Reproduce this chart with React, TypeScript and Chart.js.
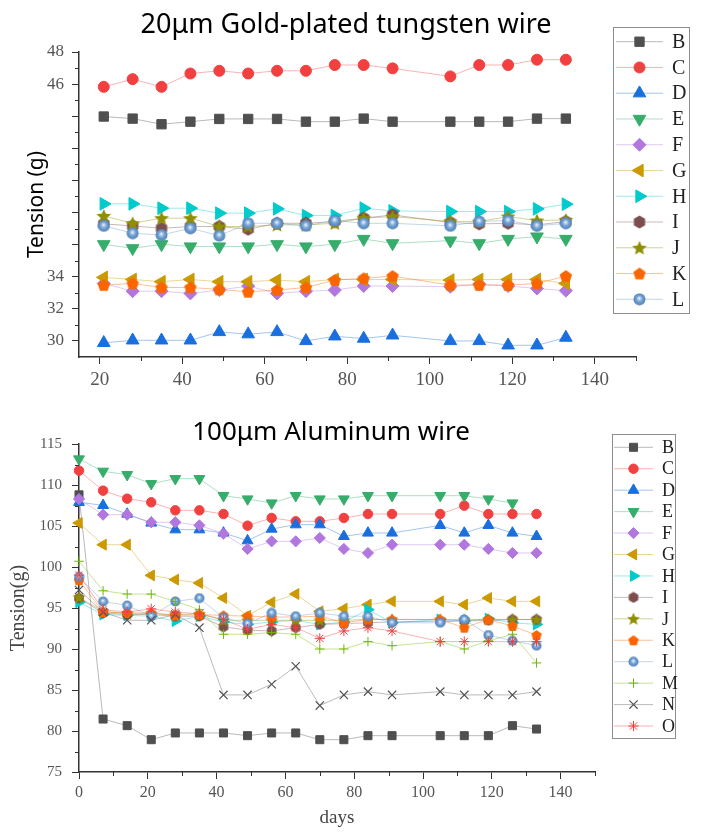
import React, { useEffect, useRef } from 'react';
import { Chart, registerables } from 'chart.js';
import { drawPoint } from 'chart.js/helpers';

Chart.register(...registerables);

// ---------------- DATA ----------------
const seriesTop = ['B', 'C', 'D', 'E', 'F', 'G', 'H', 'I', 'J', 'K', 'L'];
const seriesBot = ['B', 'C', 'D', 'E', 'F', 'G', 'H', 'I', 'J', 'K', 'L', 'M', 'N', 'O'];

const topDays = [21, 28, 35, 42, 49, 56, 63, 70, 77, 84, 91, 105, 112, 119, 126, 133];
const topB = [43.98, 43.85, 43.5, 43.66, 43.83, 43.83, 43.83, 43.66, 43.66, 43.85, 43.66, 43.66, 43.66, 43.66, 43.85, 43.85];
const topC = [45.83, 46.31, 45.83, 46.66, 46.83, 46.66, 46.83, 46.83, 47.19, 47.19, 46.98, 46.48, 47.19, 47.19, 47.52, 47.52];
const topD = [29.88, 30.04, 30.04, 30.04, 30.56, 30.42, 30.56, 30.0, 30.29, 30.15, 30.35, 30.0, 30.0, 29.73, 29.73, 30.21];
const topE = [36.02, 35.77, 36.02, 35.88, 35.88, 35.88, 36.02, 35.88, 36.02, 36.35, 36.08, 36.25, 36.08, 36.35, 36.5, 36.35];
const topF = [33.58, 33.1, 33.1, 32.96, 33.17, 33.42, 32.96, 33.1, 33.17, 33.42, 33.42, 33.38, 33.54, 33.42, 33.27, 33.13];
const topG = [33.96, 33.83, 33.69, 33.83, 33.69, 33.69, 33.79, 33.69, 33.83, 33.83, 33.83, 33.79, 33.83, 33.83, 33.83, 33.58];
const topH = [38.54, 38.54, 38.27, 38.27, 37.96, 37.96, 38.23, 37.81, 37.81, 38.27, 38.1, 38.06, 38.06, 38.06, 38.23, 38.52];
const topI = [37.29, 37.17, 37.02, 37.13, 37.13, 36.96, 37.33, 37.33, 37.44, 37.65, 37.85, 37.38, 37.29, 37.33, 37.23, 37.44];
const topJ = [37.79, 37.33, 37.65, 37.65, 37.13, 37.13, 37.23, 37.23, 37.33, 37.65, 37.75, 37.44, 37.44, 37.75, 37.5, 37.54];
const topK = [33.48, 33.58, 33.33, 33.33, 33.21, 33.06, 33.17, 33.33, 33.79, 33.9, 34.04, 33.48, 33.48, 33.48, 33.58, 34.04];
const topL = [37.17, 36.71, 36.6, 37.02, 36.56, 37.33, 37.33, 37.17, 37.5, 37.33, 37.33, 37.17, 37.44, 37.5, 37.17, 37.33];

const botDays = [0, 7, 14, 21, 28, 35, 42, 49, 56, 63, 70, 77, 84, 91, 105, 112, 119, 126, 133];
const botB = [108.8, 81.46, 80.65, 78.94, 79.76, 79.76, 79.76, 79.43, 79.76, 79.76, 78.94, 78.94, 79.43, 79.43, 79.43, 79.43, 79.43, 80.65, 80.24];
const botC = [111.75, 109.31, 108.33, 107.89, 106.91, 106.91, 106.46, 105.04, 105.98, 105.57, 105.57, 105.98, 106.46, 106.46, 106.46, 107.48, 106.46, 106.46, 106.46];
const botD = [107.89, 107.52, 106.46, 105.37, 104.55, 104.55, 104.15, 103.21, 104.63, 105.16, 105.16, 103.74, 104.15, 104.15, 105.08, 104.15, 105.08, 104.15, 103.74];
const botE = [113.17, 111.67, 111.26, 110.16, 110.77, 110.77, 108.7, 108.29, 107.8, 108.7, 108.29, 108.29, 108.7, 108.7, 108.7, 108.7, 108.29, 107.8, null];
const botF = [108.29, 106.38, 106.38, 105.45, 105.45, 105.08, 104.07, 102.2, 103.13, 103.13, 103.54, 102.2, 101.71, 102.72, 102.72, 102.72, 102.2, 101.71, 101.71];
const botG = [105.37, 102.72, 102.72, 98.98, 98.46, 98.05, 96.22, 94.07, 95.69, 96.71, 94.59, 94.92, 95.41, 95.81, 95.81, 95.41, 96.22, 95.81, 95.81];
const botH = [95.7, 94.2, 94.1, 94.0, 93.4, 94.0, 93.3, 93.0, 93.3, 93.5, 93.0, 93.3, 94.8, 93.2, 93.6, 93.4, 93.7, 93.2, 93.0];
const botI = [96.2, 94.4, 94.2, 94.2, 94.0, 94.0, 92.7, 92.3, 92.2, 92.6, 93.0, 93.1, 93.2, 93.3, 93.4, 93.4, 93.5, 93.6, 93.6];
const botJ = [96.3, 94.6, 94.3, 94.3, 94.2, 94.3, 93.5, 93.5, 93.5, 93.5, 93.5, 93.5, 93.6, 93.6, 93.6, 93.6, 93.6, 93.6, 93.6];
const botK = [98.4, 94.5, 94.4, 94.4, 94.1, 94.2, 94.1, 94.0, 93.9, 93.9, 94.0, 93.2, 93.6, 93.6, 93.6, 92.6, 93.6, 92.8, 91.7];
const botL = [98.8, 95.8, 95.3, 94.0, 95.8, 96.2, 93.8, 93.1, 94.4, 94.0, 94.4, 94.0, 94.0, 93.2, 93.2, 93.6, 91.7, 91.0, 90.4];
const botM = [100.7, 97.1, 96.7, 96.7, 95.8, 94.8, 91.8, 91.8, 92.0, 91.8, 90.0, 90.0, 90.9, 90.4, 90.9, 90.0, 91.0, 91.8, 88.3];
const botN = [97.2, 94.5, 93.5, 93.5, 94.2, 92.6, 84.4, 84.4, 85.7, 87.9, 83.1, 84.4, 84.8, 84.4, 84.8, 84.4, 84.4, 84.4, 84.8];
const botO = [99.0, 94.8, 94.5, 94.9, 94.5, 94.3, 93.6, 92.4, 93.0, 92.6, 91.3, 92.2, 92.6, 92.2, 90.9, 90.9, 90.9, 90.9, 90.9];

const topValues = [topB, topC, topD, topE, topF, topG, topH, topI, topJ, topK, topL];
const botValues = [botB, botC, botD, botE, botF, botG, botH, botI, botJ, botK, botL, botM, botN, botO];

const topXTicks = [20, 40, 60, 80, 100, 120, 140];
const topXMinor = [30, 50, 70, 90, 110, 130, 150];
const topYTicks = [30, 32, 34, 36, 38, 40, 42, 44, 46, 48];
const topYLabeled = [30, 32, 34, 46, 48];
const topYMinor = [31, 33, 35, 37, 39, 41, 43, 45, 47];

const botXTicks = [0, 20, 40, 60, 80, 100, 120, 140];
const botXMinor = [10, 30, 50, 70, 90, 110, 130, 150];
const botYTicks = [75, 80, 85, 90, 95, 100, 105, 110, 115];
const botYMinor = [77.5, 82.5, 87.5, 92.5, 97.5, 102.5, 107.5, 112.5];

const topTitle = '20μm Gold-plated tungsten wire';
const botTitle = '100μm Aluminum wire';

// ---------------- STYLE ----------------
const colors: Record<string, string> = {
  B: '#4f4f4f', C: '#f24040', D: '#1a6fdf', E: '#37ad6b', F: '#b177de', G: '#cc9900',
  H: '#00cbcc', I: '#7d4e4e', J: '#8e8e00', K: '#fb6501', L: '#6699cc', M: '#6fb802',
  N: '#545454', O: '#f24040',
};

function makeShape(kind: string, color: string, size: number): HTMLCanvasElement {
  const c = document.createElement('canvas');
  c.width = size; c.height = size;
  const g = c.getContext('2d')!;
  const r = size / 2;
  g.translate(r, r);
  if (kind === 'sphere') {
    const rr = r - 0.5;
    const grad = g.createRadialGradient(-rr * 0.05, -rr * 0.2, 0, 0, 0, rr);
    grad.addColorStop(0, '#ffffff');
    grad.addColorStop(0.22, '#b9d0ea');
    grad.addColorStop(0.55, '#6f9fd2');
    grad.addColorStop(1, '#5283b8');
    g.fillStyle = grad;
    g.beginPath(); g.arc(0, 0, rr, 0, Math.PI * 2); g.fill();
    return c;
  }
  g.fillStyle = color;
  g.beginPath();
  if (kind === 'pentagon') {
    const R = r - 0.5;
    for (let i = 0; i < 5; i++) {
      const a = -Math.PI / 2 + (i * 2 * Math.PI) / 5;
      const px = Math.cos(a) * R, py = Math.sin(a) * R + R * 0.08;
      if (i === 0) g.moveTo(px, py); else g.lineTo(px, py);
    }
  } else if (kind === 'hexagon') {
    const R = r - 0.5;
    for (let i = 0; i < 6; i++) {
      const a = -Math.PI / 2 + (i * Math.PI) / 3;
      const px = Math.cos(a) * R, py = Math.sin(a) * R;
      if (i === 0) g.moveTo(px, py); else g.lineTo(px, py);
    }
  } else if (kind === 'star5') {
    const R = r - 0.3;
    for (let i = 0; i < 10; i++) {
      const a = -Math.PI / 2 + (i * Math.PI) / 5;
      const rad = i % 2 === 0 ? R : R * 0.45;
      const px = Math.cos(a) * rad, py = Math.sin(a) * rad + R * 0.08;
      if (i === 0) g.moveTo(px, py); else g.lineTo(px, py);
    }
  }
  g.closePath();
  g.fill();
  return c;
}

type Mk = { style: any; radius: number; rotation: number; bw: number };

function markerFor(name: string, s: number): Mk {
  const col = colors[name];
  switch (name) {
    case 'B': return { style: 'rect', radius: 6.6 * s, rotation: 0, bw: 1 };
    case 'C': return { style: 'circle', radius: 5.5 * s, rotation: 0, bw: 1 };
    case 'D': return { style: 'triangle', radius: 7.3 * s, rotation: 0, bw: 1 };
    case 'E': return { style: 'triangle', radius: 7.3 * s, rotation: 180, bw: 1 };
    case 'F': return { style: 'rectRot', radius: 6.5 * s, rotation: 0, bw: 1 };
    case 'G': return { style: 'triangle', radius: 7.3 * s, rotation: 270, bw: 1 };
    case 'H': return { style: 'triangle', radius: 7.3 * s, rotation: 90, bw: 1 };
    case 'I': return { style: makeShape('hexagon', col, Math.round(14 * s)), radius: 7 * s, rotation: 0, bw: 0 };
    case 'J': return { style: makeShape('star5', col, Math.round(16 * s)), radius: 7 * s, rotation: 0, bw: 0 };
    case 'K': return { style: makeShape('pentagon', col, Math.round(14 * s)), radius: 7 * s, rotation: 0, bw: 0 };
    case 'L': return { style: makeShape('sphere', col, Math.round(13 * s)), radius: 6.5 * s, rotation: 0, bw: 0 };
    case 'M': return { style: 'cross', radius: 5.5 * s, rotation: 0, bw: 1 };
    case 'N': return { style: 'crossRot', radius: 6.8 * s, rotation: 0, bw: 1.2 };
    case 'O': return { style: 'star', radius: 6 * s, rotation: 0, bw: 1 };
  }
  return { style: 'circle', radius: 5, rotation: 0, bw: 1 };
}

function buildDatasets(names: string[], days: number[], values: (number | null)[][], s: number) {
  return names.map((name, i) => {
    const mk = markerFor(name, s);
    const col = colors[name];
    return {
      label: name,
      data: days.map((d, j) => ({ x: d, y: values[i][j] })),
      borderColor: col + '66',
      borderWidth: 1,
      pointStyle: mk.style,
      pointRadius: mk.radius,
      pointRotation: mk.rotation,
      pointBackgroundColor: col,
      pointBorderColor: col,
      pointBorderWidth: mk.bw,
      tension: 0,
      fill: false,
      clip: false as any,
      spanGaps: false,
      order: -i,
    };
  });
}

type Txt = { text: string; x: number; y: number; font: string; color: string; rotate?: number; spacing?: number };
type Lg = { x: number; y: number; w: number; h: number; lineX0: number; lineX1: number; textX: number; firstY: number; rowH: number; font: string };

function makeDecor(cfg: { minorX: number[]; minorY: number[]; texts: Txt[]; legend: Lg }) {
  return {
    id: 'decor',
    afterDraw(chart: any) {
      const ctx: CanvasRenderingContext2D = chart.ctx;
      const { left, bottom } = chart.chartArea;
      ctx.save();
      ctx.strokeStyle = '#333';
      ctx.lineWidth = 1;
      cfg.minorX.forEach((v) => {
        const px = Math.round(chart.scales.x.getPixelForValue(v)) + 0.5;
        ctx.beginPath(); ctx.moveTo(px, bottom); ctx.lineTo(px, bottom + 4); ctx.stroke();
      });
      cfg.minorY.forEach((v) => {
        const py = Math.round(chart.scales.y.getPixelForValue(v)) + 0.5;
        ctx.beginPath(); ctx.moveTo(left - 4, py); ctx.lineTo(left, py); ctx.stroke();
      });
      cfg.texts.forEach((t) => {
        ctx.save();
        ctx.font = t.font;
        ctx.fillStyle = t.color;
        ctx.textAlign = 'center';
        ctx.textBaseline = 'alphabetic';
        if (t.spacing) (ctx as any).letterSpacing = t.spacing + 'px';
        ctx.translate(t.x, t.y);
        if (t.rotate) ctx.rotate(t.rotate);
        ctx.fillText(t.text, 0, 0);
        ctx.restore();
      });
      const lg = cfg.legend;
      ctx.strokeStyle = '#8c8c8c';
      ctx.lineWidth = 1;
      ctx.strokeRect(lg.x + 0.5, lg.y + 0.5, lg.w, lg.h);
      chart.data.datasets.forEach((ds: any, i: number) => {
        const cy = lg.firstY + i * lg.rowH;
        ctx.strokeStyle = ds.borderColor;
        ctx.lineWidth = 1;
        ctx.beginPath(); ctx.moveTo(lg.lineX0, cy); ctx.lineTo(lg.lineX1, cy); ctx.stroke();
        ctx.fillStyle = ds.pointBackgroundColor;
        ctx.strokeStyle = ds.pointBorderColor;
        ctx.lineWidth = ds.pointBorderWidth || 1;
        drawPoint(ctx, { pointStyle: ds.pointStyle, rotation: ds.pointRotation || 0, radius: ds.pointRadius, borderWidth: ds.pointBorderWidth } as any, (lg.lineX0 + lg.lineX1) / 2, cy);
        ctx.fillStyle = '#222';
        ctx.font = lg.font;
        ctx.textAlign = 'left';
        ctx.textBaseline = 'middle';
        ctx.fillText(ds.label, lg.textX, cy + 1);
      });
      ctx.restore();
    },
  };
}

const SERIF = "'Liberation Serif', 'Times New Roman', serif";
const SANS = "'Noto Sans', 'Open Sans', sans-serif";

function axisCommon() {
  return {
    grid: { display: true, drawOnChartArea: false, drawTicks: true, tickLength: 7, color: '#333', lineWidth: 1 },
    border: { display: true, color: '#333', width: 1.5 },
  };
}

function topConfig(): any {
  return {
    type: 'line',
    data: { datasets: buildDatasets(seriesTop, topDays, topValues, 1) },
    options: {
      responsive: false,
      animation: false,
      events: [],
      layout: { padding: { left: 0, right: 69, top: 52, bottom: 0 } },
      plugins: { legend: { display: false }, title: { display: false }, tooltip: { enabled: false } },
      scales: {
        x: {
          type: 'linear', min: 15, max: 150,
          afterBuildTicks: (s: any) => { s.ticks = topXTicks.map((v) => ({ value: v })); },
          afterFit: (s: any) => { s.height = 53; },
          ...axisCommon(),
          ticks: { font: { family: SERIF, size: 19 }, color: '#555', padding: 5, maxRotation: 0, autoSkip: false },
        },
        y: {
          type: 'linear', min: 29, max: 48,
          afterBuildTicks: (s: any) => { s.ticks = topYTicks.map((v) => ({ value: v })); },
          afterFit: (s: any) => { s.width = 79; },
          ...axisCommon(),
          ticks: {
            font: { family: SERIF, size: 17 }, color: '#555', padding: 8, autoSkip: false,
            callback: (v: number) => (topYLabeled.includes(v) ? String(v) : ''),
          },
          title: { display: true, text: 'Tension (g)', font: { family: SANS, size: 21 }, color: '#000', padding: { top: 24, bottom: 0 } },
        },
      },
    },
    plugins: [makeDecor({
      minorX: topXMinor, minorY: topYMinor,
      texts: [{ text: topTitle, x: 346, y: 33, font: `27px ${SANS}`, color: '#000' }],
      legend: { x: 613, y: 27, w: 76, h: 286, lineX0: 616, lineX1: 663, textX: 672, firstY: 41.7, rowH: 25.76, font: `20px ${SERIF}` },
    })],
  };
}

function botConfig(): any {
  return {
    type: 'line',
    data: { datasets: buildDatasets(seriesBot, botDays, botValues, 0.86) },
    options: {
      responsive: false,
      animation: false,
      events: [],
      layout: { padding: { left: 0, right: 110, top: 34, bottom: 0 } },
      plugins: { legend: { display: false }, title: { display: false }, tooltip: { enabled: false } },
      scales: {
        x: {
          type: 'linear', min: 0, max: 150,
          afterBuildTicks: (s: any) => { s.ticks = botXTicks.map((v) => ({ value: v })); },
          afterFit: (s: any) => { s.height = 64; },
          ...axisCommon(),
          ticks: { font: { family: SERIF, size: 16 }, color: '#555', padding: 4, maxRotation: 0, autoSkip: false },
          title: { display: true, text: 'days', font: { family: SERIF, size: 19 }, color: '#444', padding: { top: 0, bottom: 7 } },
        },
        y: {
          type: 'linear', min: 75, max: 115,
          afterBuildTicks: (s: any) => { s.ticks = botYTicks.map((v) => ({ value: v })); },
          afterFit: (s: any) => { s.width = 79; },
          ...axisCommon(),
          ticks: { font: { family: SERIF, size: 15 }, color: '#555', padding: 10, autoSkip: false },
          title: { display: true, text: 'Tension(g)', font: { family: SERIF, size: 20 }, color: '#444', padding: { top: 7, bottom: 0 } },
        },
      },
    },
    plugins: [makeDecor({
      minorX: botXMinor, minorY: botYMinor,
      texts: [{ text: botTitle, x: 331, y: 30, font: `26px ${SANS}`, color: '#000' }],
      legend: { x: 612, y: 24, w: 63, h: 304, lineX0: 614, lineX1: 653, textX: 662, firstY: 37.3, rowH: 21.44, font: `18px ${SERIF}` },
    })],
  };
}

export default function App() {
  const topRef = useRef<HTMLCanvasElement>(null);
  const botRef = useRef<HTMLCanvasElement>(null);
  useEffect(() => {
    const c1 = new Chart(topRef.current!, topConfig());
    const c2 = new Chart(botRef.current!, botConfig());
    return () => { c1.destroy(); c2.destroy(); };
  }, []);
  return (
    <div style={{ position: 'absolute', left: 0, top: 0, width: 705, height: 836, background: '#fff', overflow: 'hidden' }}>
      <canvas ref={topRef} width={705} height={410} style={{ position: 'absolute', left: 0, top: 0, width: 705, height: 410 }} />
      <canvas ref={botRef} width={705} height={426} style={{ position: 'absolute', left: 0, top: 410, width: 705, height: 426 }} />
    </div>
  );
}
